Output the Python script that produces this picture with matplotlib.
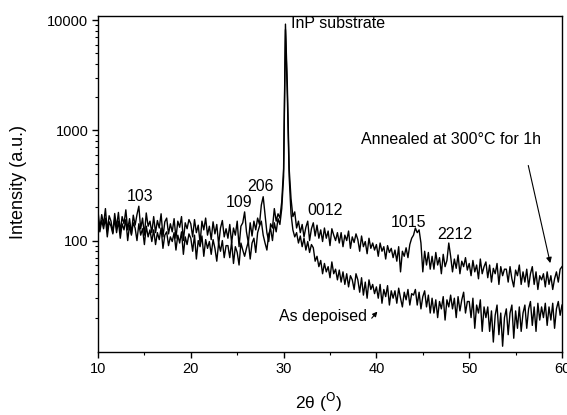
import numpy as np
import matplotlib
matplotlib.use("Agg")
import matplotlib.pyplot as plt
from matplotlib.ticker import FixedLocator, LogLocator, NullFormatter, FuncFormatter

plt.rcParams['font.family'] = ['Liberation Sans', 'DejaVu Sans']

# 2-theta grid, 10..60 step 0.2 (251 points)
two_theta = np.round(np.linspace(10, 60, 251), 2)

annealed = [
    185, 128, 172, 140, 195, 122, 168, 150, 118, 176,
    132, 180, 120, 165, 142, 190, 125, 158, 115, 170,
    138, 172, 205, 128, 160, 112, 178, 135, 150, 118,
    165, 118, 152, 130, 175, 108, 148, 160, 115, 142,
    120, 158, 105, 150, 132, 165, 100, 145, 128, 155,
    142, 108, 155, 118, 138, 95, 150, 125, 160, 112,
    135, 102, 148, 115, 140, 92, 130, 152, 108, 128,
    105, 140, 95, 130, 112, 150, 88, 135, 145, 182,
    120, 95, 145, 110, 150, 125, 160, 140, 210, 250,
    170, 118, 98, 142, 130, 195, 150, 175, 160, 225,
    450, 9200, 2600, 450, 240, 165, 182, 130, 150, 118,
    140, 108, 132, 150, 100, 128, 145, 110, 138, 105,
    125, 98, 130, 105, 122, 90, 128, 112, 100, 118,
    95, 118, 88, 112, 100, 122, 85, 108, 96, 115,
    102, 80, 110, 88, 98, 76, 105, 85, 95, 82,
    92, 72, 95, 80, 88, 68, 90, 78, 85, 70,
    82, 65, 88, 52, 80, 72, 86, 70, 92, 105,
    112, 130, 118, 125, 95, 52, 80, 60, 78, 55,
    72, 55, 78, 60, 70, 50, 75, 58, 66, 95,
    72, 52, 68, 56, 74, 50, 65, 58, 70, 54,
    62, 48, 66, 52, 60, 45, 68, 50, 58, 64,
    46, 60, 42, 56, 50, 62, 40, 58, 48, 55,
    55, 42, 58, 45, 38, 54, 48, 60, 40, 52,
    42, 55, 38, 50, 58, 40, 52, 36, 48, 44,
    50, 38, 52, 40, 48, 36, 45, 52, 42, 55,
    58,
]

as_deposited = [
    165, 120, 152, 128, 160, 108, 148, 135, 115, 158,
    118, 150, 105, 142, 125, 155, 100, 138, 112, 145,
    130, 100, 142, 112, 128, 92, 135, 108, 125, 98,
    125, 92, 118, 102, 130, 85, 112, 120, 90, 108,
    98, 118, 82, 112, 95, 120, 75, 108, 92, 115,
    105, 80, 112, 68, 100, 88, 110, 72, 102, 85,
    98, 75, 102, 85, 65, 95, 80, 100, 70, 90,
    90, 70, 98, 62, 88, 78, 60, 95, 82, 72,
    85, 98, 68, 95, 105, 78, 118, 135, 150, 112,
    95, 82, 115, 128, 100, 145, 120, 158, 140, 195,
    380, 8200, 2100, 380, 175, 125, 108, 118, 95, 110,
    88, 105, 82, 98, 78, 92, 86, 65, 72, 58,
    66, 50, 62, 52, 58, 46, 64, 50, 55, 44,
    54, 42, 52, 40, 50, 38, 48, 44, 36, 50,
    44, 34, 46, 32, 42, 30, 44, 36, 40, 33,
    38, 30, 40, 27, 36, 31, 39, 26, 35, 30,
    35, 27, 37, 30, 25, 34, 29, 36, 26, 33,
    32, 36, 26, 34, 24, 31, 35, 25, 32, 22,
    30, 22, 29, 20, 28, 24, 31, 19, 29, 25,
    32, 24, 30, 20, 31, 23, 29, 34, 22, 28,
    28, 20, 30, 16, 26, 22, 29, 15, 25, 20,
    25, 15, 23, 12, 21, 26, 14, 22, 11, 20,
    24, 14, 22, 26, 13, 23, 16, 25, 15, 22,
    26, 16, 24, 28, 17, 25, 15, 27, 19, 25,
    20, 27, 17, 25, 19, 27, 16, 24, 28, 21,
    26,
]

peak_labels = ["103", "109", "206", "0012", "1015", "2212"]
peak_label_x = [14.5, 25.2, 27.55, 34.5, 43.5, 48.5]
peak_label_y = [250, 221, 308, 187, 146, 114]

fig = plt.figure(figsize=(5.67, 4.15), dpi=100)
ax = fig.add_axes([98/567, 1-352/415, (562-98)/567, (352-16)/415])

ax.plot(two_theta, annealed, color='black', lw=1.0)
ax.plot(two_theta, as_deposited, color='black', lw=1.0)

ax.set_yscale('log')
ax.set_xlim(10, 60)
ax.set_ylim(9.75, 10900)

ax.yaxis.set_major_locator(FixedLocator([100, 1000, 10000]))
ax.yaxis.set_major_formatter(FuncFormatter(lambda v, p: f"{int(v)}"))
ax.yaxis.set_minor_locator(LogLocator(base=10, subs=np.arange(2, 10)))
ax.yaxis.set_minor_formatter(NullFormatter())
ax.set_xticks([10, 20, 30, 40, 50, 60])
ax.set_xticks([15, 25, 35, 45, 55], minor=True)

ax.tick_params(which='major', direction='out', length=4, width=1, labelsize=10.5, pad=3)
ax.tick_params(which='minor', direction='out', length=2.5, width=0.8)
for s in ax.spines.values():
    s.set_linewidth(1.0)

fig.text(19/567, 1-182/415, "Intensity (a.u.)", fontsize=13, rotation=90,
         ha='center', va='center')
fig.text(318/567, 1-402/415, r"2θ ($^{\rm O}$)", fontsize=12.5, ha='center', va='center')

for lab, lx, ly in zip(peak_labels, peak_label_x, peak_label_y):
    ax.text(lx, ly, lab, fontsize=11.5, ha='center', va='center')

ax.text(30.8, 9290, "InP substrate", fontsize=11.5, ha='left', va='center')
ax.text(48.0, 820, "Annealed at 300°C for 1h", fontsize=11.5, ha='center', va='center')
ax.annotate("", xy=(58.8, 59), xytext=(56.3, 508),
            arrowprops=dict(arrowstyle='-|>', color='black', lw=0.8, mutation_scale=8))
ax.text(34.2, 20.5, "As depoised", fontsize=11.5, ha='center', va='center')
ax.annotate("", xy=(40.3, 23.7), xytext=(39.3, 18.9),
            arrowprops=dict(arrowstyle='-|>', color='black', lw=0.8, mutation_scale=7))

fig.savefig("out.png", dpi=100)
